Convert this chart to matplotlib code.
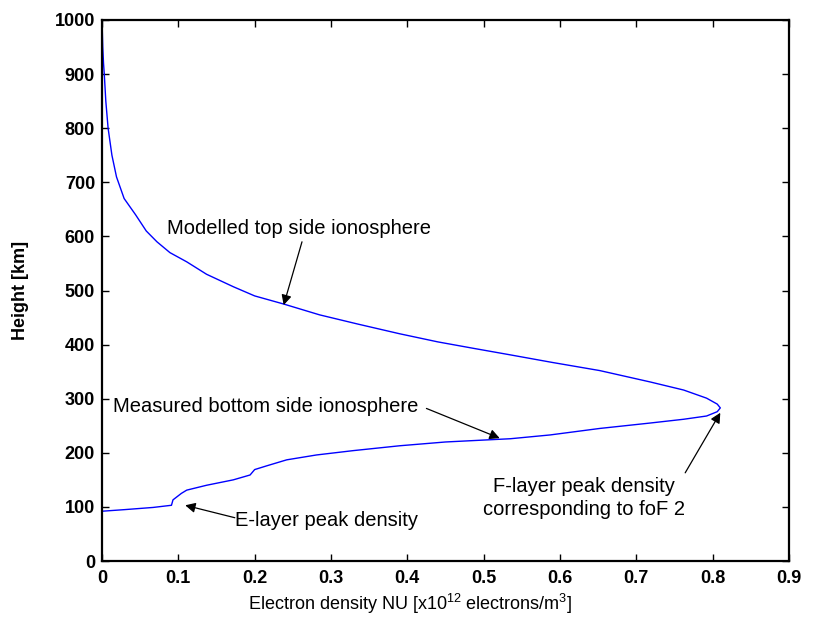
import matplotlib
matplotlib.use("Agg")
import matplotlib.pyplot as plt

plt.rcParams['font.family'] = ['Liberation Sans', 'DejaVu Sans']
plt.rcParams['mathtext.default'] = 'regular'

# Electron density profile: height (km) and density (x10^12 electrons/m^3),
# running from the top of the topside down through the F peak to the E layer.
height_km = [1000, 950, 920, 900, 850, 800, 750, 710, 670, 640, 610, 590,
             570, 553, 530, 507, 490, 475, 455, 438, 420, 405, 393, 381,
             367, 352, 331, 316, 301, 290, 283, 276, 268, 262, 255, 245,
             233, 226, 220, 213, 204, 196, 187, 176, 169, 159, 150, 140,
             131, 125, 113, 103, 99, 95, 92]
density = [0.000, 0.001, 0.002, 0.003, 0.005, 0.008, 0.013, 0.019, 0.029,
           0.044, 0.058, 0.072, 0.089, 0.111, 0.137, 0.172, 0.200, 0.238,
           0.285, 0.335, 0.390, 0.440, 0.487, 0.535, 0.590, 0.652, 0.718,
           0.762, 0.792, 0.806, 0.810, 0.806, 0.792, 0.762, 0.718, 0.652,
           0.587, 0.535, 0.450, 0.390, 0.329, 0.281, 0.242, 0.216, 0.200,
           0.194, 0.172, 0.137, 0.111, 0.104, 0.093, 0.091, 0.067, 0.030,
           0.000]

x_ticks = [0, 0.1, 0.2, 0.3, 0.4, 0.5, 0.6, 0.7, 0.8, 0.9]
x_tick_labels = ["0", "0.1", "0.2", "0.3", "0.4", "0.5", "0.6", "0.7", "0.8", "0.9"]
y_ticks = list(range(0, 1001, 100))

fig = plt.figure(figsize=(8.14, 6.25), dpi=100)
ax = fig.add_axes([0.1253, 0.1024, 0.8440, 0.8656])

ax.plot(density, height_km, color=(0, 0, 1), lw=1.0)

ax.set_xlim(0, 0.9)
ax.set_ylim(0, 1000)
ax.set_xticks(x_ticks)
ax.set_xticklabels(x_tick_labels)
ax.set_yticks(y_ticks)
ax.tick_params(direction='in', length=5, width=1, top=True, right=True,
               labelsize=13, pad=5)
ax.tick_params(axis='x', pad=6.5)
for lbl in ax.get_xticklabels() + ax.get_yticklabels():
    lbl.set_fontweight('bold')
for sp in ax.spines.values():
    sp.set_linewidth(1.6)

ax.set_xlabel("Electron density NU [x10$^{12}$ electrons/m$^{3}$]", fontsize=13)
ax.xaxis.set_label_coords(0.448, -0.057)
ax.set_ylabel("Height [km]", fontsize=13, fontweight='bold')
ax.yaxis.set_label_coords(-0.106, 0.5)

arrow = dict(arrowstyle='-|>', color='k', lw=0.9, mutation_scale=15,
             shrinkA=0, shrinkB=0)
txt = dict(fontsize=14.5, va='center')

ax.text(0.085, 614, "Modelled top side ionosphere", ha='left', **txt)
ax.annotate("", xy=(0.238, 473), xytext=(0.262, 590), arrowprops=arrow)

ax.text(0.014, 286, "Measured bottom side ionosphere", ha='left', **txt)
ax.annotate("", xy=(0.521, 227), xytext=(0.425, 282), arrowprops=arrow)

ax.text(0.174, 74, "E-layer peak density", ha='left', **txt)
ax.annotate("", xy=(0.109, 103), xytext=(0.174, 80), arrowprops=arrow)

ax.text(0.631, 117, "F-layer peak density\ncorresponding to foF 2",
        ha='center', linespacing=1.25, **txt)
ax.annotate("", xy=(0.810, 274), xytext=(0.764, 163), arrowprops=arrow)

fig.savefig("out.png", dpi=100)
